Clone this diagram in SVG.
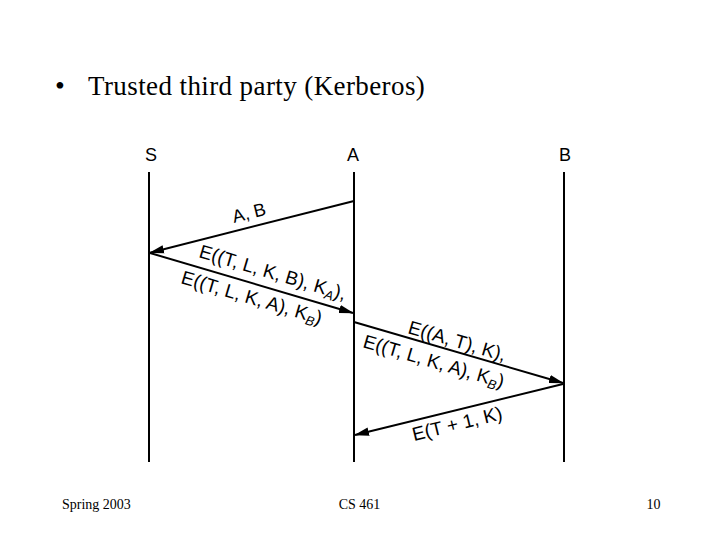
<svg xmlns="http://www.w3.org/2000/svg" width="720" height="540" viewBox="0 0 720 540">
<style>
.title{font-family:"Liberation Serif","Times New Roman",serif;font-size:27px;letter-spacing:0.4px;fill:#000}
.bul{font-family:"Liberation Serif","Times New Roman",serif;font-size:28px;fill:#000}
.foot{font-family:"Liberation Serif","Times New Roman",serif;font-size:14px;fill:#000}
.node{font-family:"Liberation Sans",Arial,sans-serif;font-size:18px;fill:#000;text-anchor:middle}
.lbl{font-family:"Liberation Sans",Arial,sans-serif;font-size:19px;fill:#000}
.sub{font-size:13px;font-style:italic}
.life{stroke:#000;stroke-width:2;fill:none}
.msg{stroke:#000;stroke-width:2;fill:none;marker-end:url(#ah)}
</style>
<defs>
<marker id="ah" markerUnits="userSpaceOnUse" viewBox="0 0 15 10" refX="14" refY="5" markerWidth="15" markerHeight="10" orient="auto">
<path d="M0,0.8 L15,5 L0,9.2 Z" fill="#000"/>
</marker>
</defs>
<rect width="720" height="540" fill="#fff"/>
<text class="bul" x="55" y="95">•</text>
<text class="title" x="88" y="95">Trusted third party (Kerberos)</text>
<g id="S"><text class="node" x="151" y="161">S</text><line class="life" x1="149" y1="172" x2="149" y2="462"/></g>
<g id="A"><text class="node" x="353" y="161">A</text><line class="life" x1="354" y1="172" x2="354" y2="462"/></g>
<g id="B"><text class="node" x="565" y="161">B</text><line class="life" x1="564" y1="172" x2="564" y2="462"/></g>
<g id="connectors">
<line class="msg" x1="354" y1="201" x2="150" y2="252.7"/>
<line class="msg" x1="150" y1="253" x2="353" y2="313"/>
<line class="msg" x1="354" y1="322" x2="563" y2="383"/>
<line class="msg" x1="563" y1="384" x2="355" y2="435"/>
<text class="lbl" style="font-size:18px" transform="translate(234,223) rotate(-14.2)">A, B</text>
<text class="lbl" transform="translate(198,257) rotate(16.5)">E((T, L, K, B), K<tspan class="sub" dy="4">A</tspan><tspan dy="-4">),</tspan></text>
<text class="lbl" transform="translate(180,283) rotate(16.5)">E((T, L, K, A), K<tspan class="sub" dy="4">B</tspan><tspan dy="-4">)</tspan></text>
<text class="lbl" transform="translate(407,333) rotate(16.3)">E((A, T), K),</text>
<text class="lbl" transform="translate(362,347) rotate(16.3)">E((T, L, K, A), K<tspan class="sub" dy="4">B</tspan><tspan dy="-4">)</tspan></text>
<text class="lbl" transform="translate(414,441) rotate(-13.8)">E(T + 1, K)</text>
</g>
<text class="foot" x="62" y="509">Spring 2003</text>
<text class="foot" x="359.5" y="509" text-anchor="middle">CS 461</text>
<text class="foot" x="653.5" y="509" text-anchor="middle">10</text>
</svg>
